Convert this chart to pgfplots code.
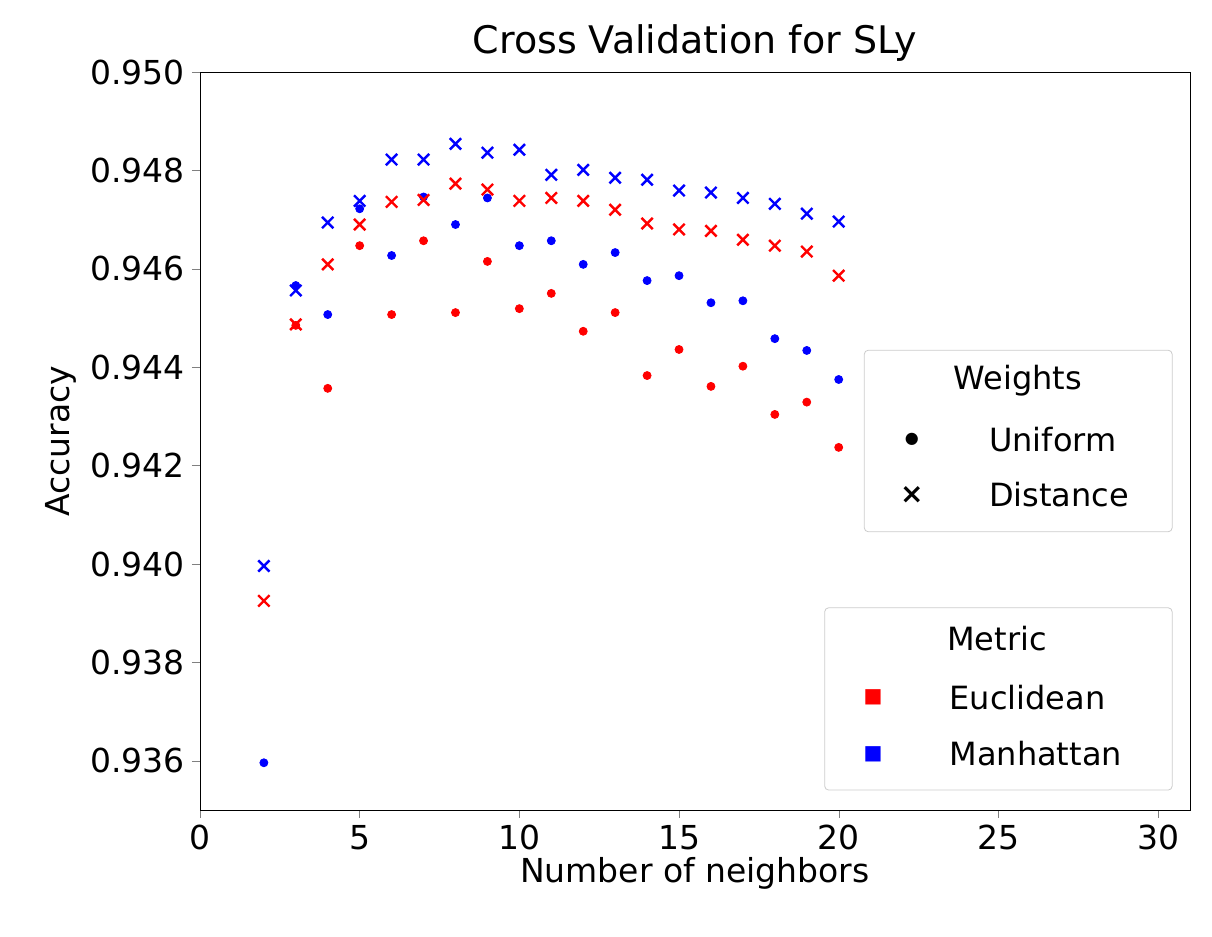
\documentclass[border=0pt]{standalone}
\usepackage{pgfplots}
\pgfplotsset{compat=1.18}
\usepackage{fontspec}
\setmainfont{DejaVu Sans}
\begin{document}
\begin{tikzpicture}[x=1pt,y=1pt]
\path (-100,-63.5) rectangle (506,405);
\begin{axis}[at={(0,0)},anchor=south west,scale only axis,width=495pt,height=369pt,
xmin=0,xmax=31,ymin=0.935,ymax=0.950,
xtick={0,5,...,30},ytick={0.936,0.938,...,0.950},
xtick pos=bottom,ytick pos=left,
yticklabel style={/pgf/number format/.cd,fixed,fixed zerofill,precision=3},
/pgf/number format/assume math mode=true,
tick label style={font=\fontsize{16.5}{19}\selectfont},
label style={font=\fontsize{16.5}{19}\selectfont},
title style={font=\fontsize{19}{22}\selectfont,yshift=-4pt},
title={Cross Validation for SLy},
xlabel={Number of neighbors},ylabel={Accuracy},
xlabel style={yshift=3pt},
tick align=outside,major tick length=4pt,
clip=false]
\addplot[only marks,mark=*,mark size=2pt,red,draw=none] coordinates {
(3,0.94485)(4,0.94357)(5,0.94647)(6,0.94507)(7,0.94657)(8,0.94511)(9,0.94615)(10,0.94519)(11,0.94550)(12,0.94473)(13,0.94511)(14,0.94383)(15,0.94436)(16,0.94361)(17,0.94402)(18,0.94304)(19,0.94329)(20,0.94237)};
\addplot[only marks,mark=*,mark size=2pt,blue,draw=none] coordinates {
(2,0.93596)(3,0.94566)(4,0.94507)(5,0.94722)(6,0.94627)(7,0.94746)(8,0.94690)(9,0.94744)(10,0.94647)(11,0.94657)(12,0.94609)(13,0.94633)(14,0.94576)(15,0.94586)(16,0.94531)(17,0.94535)(18,0.94458)(19,0.94434)(20,0.94375)};
\addplot[only marks,mark=x,mark size=4pt,line width=1.2pt,red] coordinates {
(2,0.93925)(3,0.94487)(4,0.94609)(5,0.94690)(6,0.94736)(7,0.94740)(8,0.94773)(9,0.94761)(10,0.94738)(11,0.94744)(12,0.94738)(13,0.94720)(14,0.94692)(15,0.94680)(16,0.94677)(17,0.94659)(18,0.94647)(19,0.94635)(20,0.94586)};
\addplot[only marks,mark=x,mark size=4pt,line width=1.2pt,blue] coordinates {
(2,0.93996)(3,0.94556)(4,0.94694)(5,0.94738)(6,0.94822)(7,0.94822)(8,0.94854)(9,0.94836)(10,0.94842)(11,0.94791)(12,0.94801)(13,0.94785)(14,0.94781)(15,0.94759)(16,0.94755)(17,0.94744)(18,0.94732)(19,0.94712)(20,0.94696)};
% legends
\draw[gray!40,fill=white,rounded corners=2pt] (rel axis cs:0.671,0.377) rectangle (rel axis cs:0.982,0.623);
\node[font=\fontsize{16}{19}\selectfont] at (rel axis cs:0.826,0.582) {Weights};
\node[font=\fontsize{8}{10}\selectfont] at (rel axis cs:0.719,0.502) {●};
\node[font=\fontsize{16}{19}\selectfont,anchor=west] at (rel axis cs:0.79,0.502) {Uniform};
\node[font=\fontsize{14}{17}\selectfont\bfseries] at (rel axis cs:0.719,0.427) {×};
\node[font=\fontsize{16}{19}\selectfont,anchor=west] at (rel axis cs:0.79,0.427) {Distance};
\draw[gray!40,fill=white,rounded corners=2pt] (rel axis cs:0.631,0.027) rectangle (rel axis cs:0.982,0.274);
\node[font=\fontsize{16}{19}\selectfont] at (rel axis cs:0.805,0.232) {Metric};
\node[font=\fontsize{10}{12}\selectfont,red] at (rel axis cs:0.68,0.153) {■};
\node[font=\fontsize{16}{19}\selectfont,anchor=west] at (rel axis cs:0.75,0.153) {Euclidean};
\node[font=\fontsize{10}{12}\selectfont,blue] at (rel axis cs:0.68,0.076) {■};
\node[font=\fontsize{16}{19}\selectfont,anchor=west] at (rel axis cs:0.75,0.076) {Manhattan};
\end{axis}
\end{tikzpicture}
\end{document}
